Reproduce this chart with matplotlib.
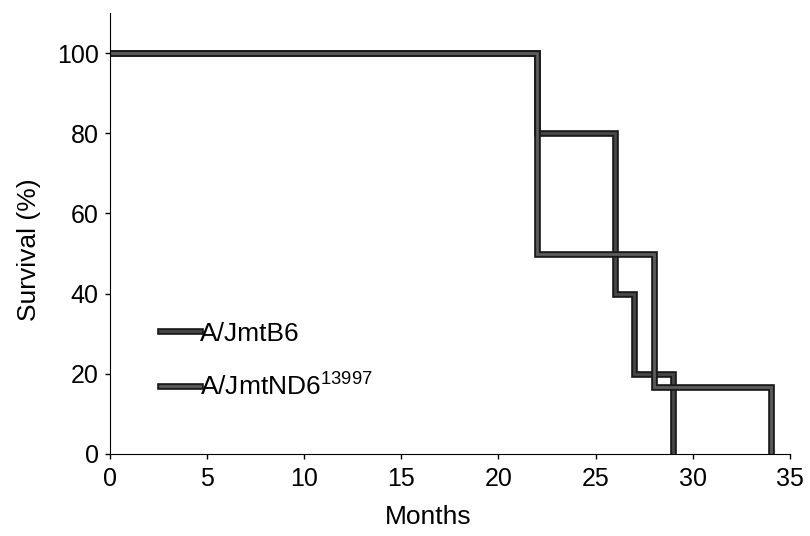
import matplotlib
matplotlib.use("Agg")
import matplotlib.pyplot as plt
import matplotlib.patheffects as pe

# survival data (months, % surviving)
b6_months = [0, 22, 26, 27, 29]
b6_survival = [100, 80, 40, 20, 0]
nd6_months = [0, 22, 28, 34]
nd6_survival = [100, 50, 16.7, 0]

x_ticks = [0, 5, 10, 15, 20, 25, 30, 35]
y_ticks = [0, 20, 40, 60, 80, 100]

plt.rcParams['font.family'] = ['Liberation Sans', 'DejaVu Sans']
plt.rcParams['mathtext.fontset'] = 'custom'
plt.rcParams['mathtext.rm'] = 'Liberation Sans'


def outlined():
    return [pe.Stroke(linewidth=4.8, foreground='#1a1a1a'), pe.Normal()]


def main():
    fig = plt.figure(figsize=(8.1, 5.36), dpi=100)
    ax = fig.add_axes([0.1352, 0.153, 0.8401, 0.8228])

    ax.step(b6_months, b6_survival, where='post', color='#484848', lw=2.0,
            path_effects=outlined(), label='A/JmtB6',
            solid_joinstyle='miter')
    ax.step(nd6_months, nd6_survival, where='post', color='#5c5c5c', lw=2.0,
            path_effects=outlined(),
            label='A/JmtND6$^{\\mathregular{13997}}$',
            solid_joinstyle='miter')

    ax.set_xlim(0, 35)
    ax.set_ylim(0, 110)
    ax.set_xticks(x_ticks)
    ax.set_yticks(y_ticks)
    ax.spines['top'].set_visible(False)
    ax.spines['right'].set_visible(False)
    ax.tick_params(labelsize=18, direction='out', length=3.6, width=1)
    ax.tick_params(axis='x', pad=5.5)
    ax.tick_params(axis='y', pad=4.3)
    ax.set_xlabel('Months', fontsize=19)
    ax.set_ylabel('Survival (%)', fontsize=19)
    ax.xaxis.set_label_coords(0.468, -0.115)
    ax.yaxis.set_label_coords(-0.100, 0.463)

    ax.legend(frameon=False, loc='upper left', bbox_to_anchor=(0.0742, 0.300),
              borderaxespad=0, borderpad=0, handlelength=1.5,
              handletextpad=0.0, labelspacing=1.0, fontsize=19)

    fig.savefig('out.png', dpi=100)
    plt.close(fig)


if __name__ == '__main__':
    main()
